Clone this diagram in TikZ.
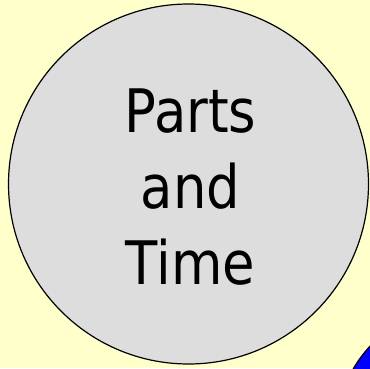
\documentclass[tikz,border=0pt]{standalone}
\usepackage{fontspec}
\setmainfont{DejaVu Sans}
\newfontfamily\labelfont[FakeStretch=0.88]{DejaVu Sans}
\usetikzlibrary{positioning}
\definecolor{PaleYellow}{RGB}{255,255,204}
\definecolor{LightGray}{RGB}{221,221,221}

\begin{document}
\begin{tikzpicture}[x=1pt, y=-1pt, line width=1.2pt]
        % Background
        \fill [PaleYellow] (0,0) rectangle (370,368);
        \useasboundingbox (0,0) rectangle (370,368);

        % Blue shape in the corner
        \begin{scope}
            \clip (0,0) rectangle (370,368);
            \filldraw [fill=blue, draw=black] (460,430) circle (123);
        \end{scope}

        % Main circle
        \node [circle, draw=black, fill=LightGray, minimum size=360pt, inner sep=0pt] (parts) at (188.5,184) {};
        \node [align=center, font=\labelfont\fontsize{60}{76}\selectfont] (label) at ([xshift=2pt, yshift=-3.5pt]parts.center) {Parts\\and\\Time};
    \end{tikzpicture}
\end{document}
